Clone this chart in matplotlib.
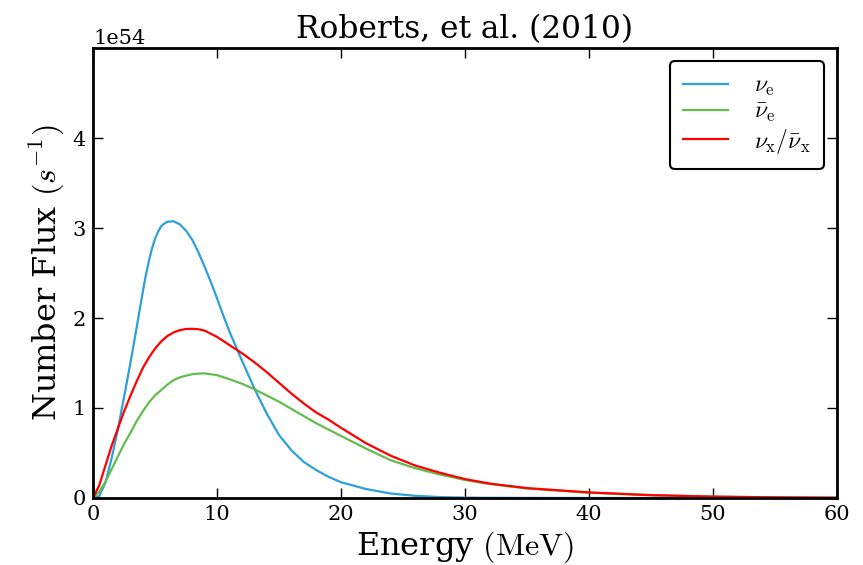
import matplotlib
matplotlib.use("Agg")
import matplotlib.pyplot as plt
import numpy as np

plt.rcParams['font.family'] = ['DejaVu Serif']
plt.rcParams['mathtext.fontset'] = 'cm'

energy_e = [0, 0.5, 1, 1.5, 2, 2.5, 3, 3.5, 3.75, 4, 4.25, 4.5, 4.75, 5, 5.25, 5.5, 5.75,
            6, 6.5, 7, 7.5, 8, 8.5, 9, 9.5, 10, 10.5, 11, 11.5, 12, 13, 14, 15, 16, 17,
            18, 19, 20, 22, 24, 26, 28, 30, 32, 35, 40, 60]
nu_e = [0, 0.02, 0.17, 0.44, 0.76, 1.12, 1.49, 1.88, 2.08, 2.28, 2.47, 2.63, 2.77, 2.88,
        2.96, 3.02, 3.05, 3.07, 3.075, 3.04, 2.97, 2.87, 2.73, 2.57, 2.40, 2.22, 2.03,
        1.85, 1.69, 1.53, 1.22, 0.94, 0.70, 0.53, 0.40, 0.31, 0.235, 0.175, 0.10, 0.05,
        0.024, 0.010, 0.004, 0.002, 0.001, 0.0, 0.0]

energy = [0, 0.5, 1, 1.5, 2, 2.5, 3, 3.5, 4, 4.5, 5, 5.5, 6, 6.5, 7, 7.5, 8, 8.5, 9,
          10, 11, 12, 13, 14, 15, 16, 17, 18, 19, 20, 22, 24, 26, 28, 30, 32, 35,
          40, 45, 50, 55, 60]

nu_e_bar = [0, 0.07, 0.18, 0.32, 0.46, 0.60, 0.72, 0.85, 0.96, 1.06, 1.14, 1.20, 1.26,
            1.31, 1.34, 1.36, 1.375, 1.382, 1.385, 1.365, 1.32, 1.27, 1.21, 1.14, 1.07,
            0.99, 0.91, 0.83, 0.76, 0.69, 0.55, 0.42, 0.33, 0.26, 0.20, 0.155, 0.105,
            0.058, 0.030, 0.015, 0.007, 0.003]

nu_x = [0, 0.14, 0.36, 0.58, 0.77, 0.96, 1.13, 1.29, 1.44, 1.56, 1.66, 1.74, 1.80, 1.84,
        1.865, 1.878, 1.88, 1.875, 1.86, 1.79, 1.70, 1.61, 1.51, 1.40, 1.28, 1.16, 1.05,
        0.95, 0.87, 0.78, 0.61, 0.47, 0.36, 0.28, 0.21, 0.16, 0.11,
        0.062, 0.032, 0.015, 0.007, 0.003]

scale = 1e54

fig = plt.figure(figsize=(8.63, 5.65), dpi=100)
ax = fig.add_axes([0.1078, 0.1186, 0.862, 0.7964])

ax.plot(energy_e, np.array(nu_e) * scale, color='#2ca0d8', lw=1.6, label=r'$\nu_\mathrm{e}$')
ax.plot(energy, np.array(nu_e_bar) * scale, color='#62bd4f', lw=1.6, label=r'$\bar{\nu}_\mathrm{e}$')
ax.plot(energy, np.array(nu_x) * scale, color='#ff0000', lw=1.6, label=r'$\nu_\mathrm{x}/\bar{\nu}_\mathrm{x}$')

ax.set_xlim(0, 60)
ax.set_ylim(0, 5e54)
ax.set_yticks([0, 1e54, 2e54, 3e54, 4e54])
ax.set_xticks([0, 10, 20, 30, 40, 50, 60])
ax.tick_params(direction='in', top=True, right=True, length=7, width=1, labelsize=15, pad=5)
for s in ax.spines.values():
    s.set_linewidth(2)
ax.yaxis.get_offset_text().set_fontsize(15)

ax.set_title('Roberts, et al. (2010)', fontsize=22.5, pad=7)
ax.set_xlabel(r'Energy $(\mathrm{MeV})$', fontsize=23, labelpad=4)
ax.set_ylabel(r'Number Flux $(s^{-1})$', fontsize=23, labelpad=4)

leg = ax.legend(loc='upper right', fontsize=17, fancybox=True, framealpha=1,
                borderaxespad=0.55, borderpad=0.55, handlelength=1.9,
                labelspacing=0.1, handletextpad=1.1)
leg.get_frame().set_edgecolor('black')
leg.get_frame().set_linewidth(1.5)

fig.savefig('out.png', dpi=100)
